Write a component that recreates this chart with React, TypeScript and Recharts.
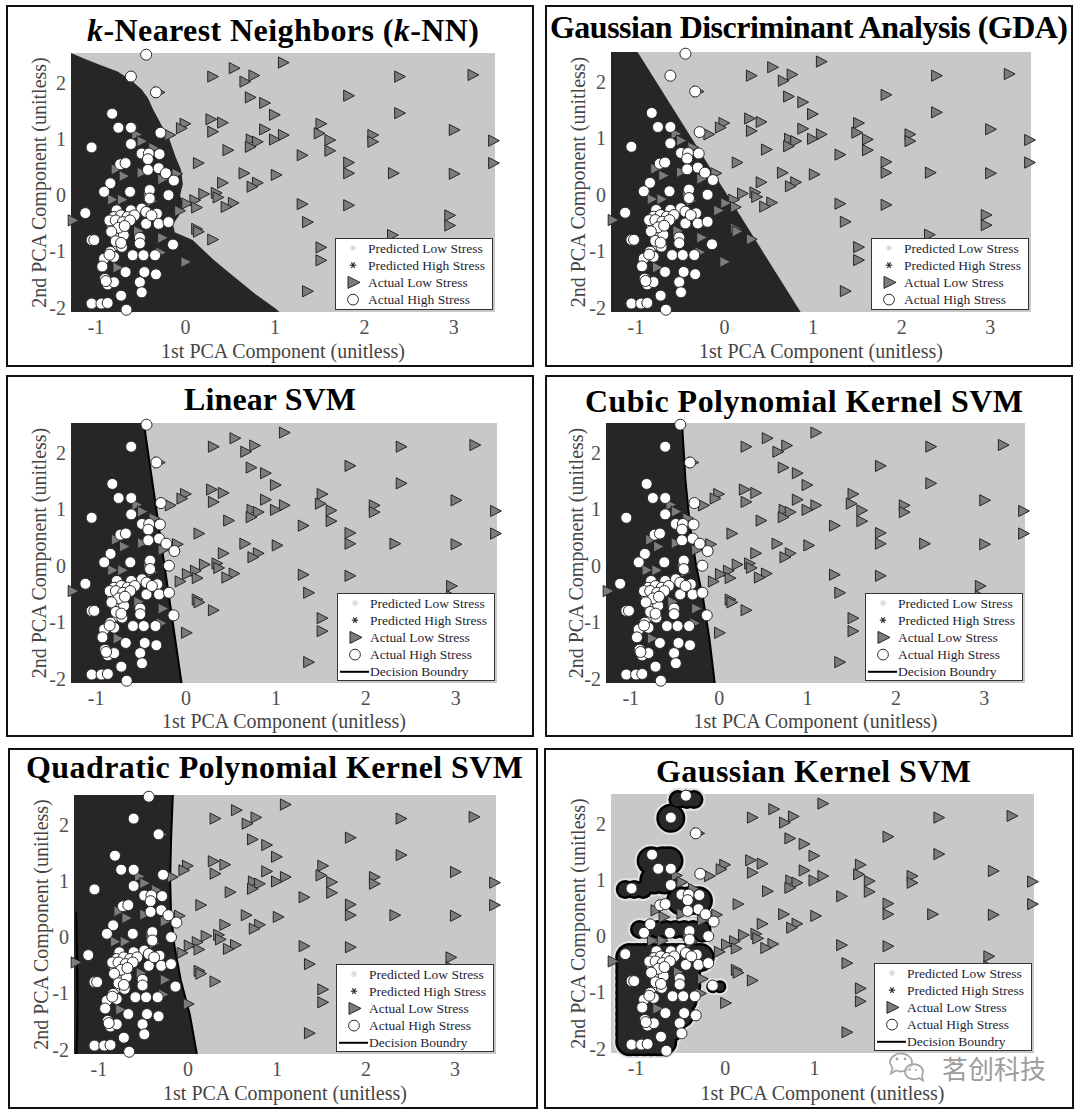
import React from 'react';
import { ComposedChart, XAxis, YAxis, CartesianGrid, Area, Line, Scatter, Legend } from 'recharts';

const SERIF = '"Liberation Serif", "Times New Roman", serif';
const LIGHT = '#c8c8c8';
const DARK = '#262626';

type P = [number, number];

const X_DOMAIN: [number, number] = [-1.28, 3.46];
const Y_DOMAIN: [number, number] = [-2.08, 2.53];
const X_TICKS = [-1, 0, 1, 2, 3];
// the last panel's 2 and 3 sit under the watermark in the source picture
const X_TICKS_WATERMARKED = [-1, 0, 1];
const Y_TICKS = [-2, -1, 0, 1, 2];
const X_LABEL = '1st PCA Component (unitless)';
const Y_LABEL = '2nd PCA Component (unitless)';
const LEGEND_LABELS = ['Predicted Low Stress', 'Predicted High Stress', 'Actual Low Stress', 'Actual High Stress'];
const BOUNDARY_LABEL = 'Decision Boundry';

// actual low stress samples (triangles)
const LOW_STRESS: P[] = [
  [1.09, 2.36], [0.54, 2.26], [0.3, 2.11], [0.76, 2.13], [0.66, 2.02], [2.39, 2.11], [3.21, 2.14],
  [1.82, 1.77], [0.72, 1.74], [0.88, 1.64], [0.99, 1.43], [2.39, 1.46], [0.28, 1.35], [0.41, 1.29],
  [-0.01, 1.27], [1.51, 1.27], [0.3, 1.13], [-0.18, 1.07], [-0.05, 1.19], [0.88, 1.17], [1.49, 1.1],
  [3.0, 1.16], [1.09, 1.07], [0.99, 0.99], [2.09, 1.07], [2.09, 0.95], [1.61, 0.98], [0.73, 0.99],
  [0.8, 0.95], [0.72, 0.86], [3.44, 0.97], [0.47, 0.8], [1.61, 0.79], [1.3, 0.71], [0.14, 0.57],
  [1.82, 0.58], [3.44, 0.57], [1.82, 0.39], [2.32, 0.39], [3.0, 0.38], [0.65, 0.39], [1.01, 0.36],
  [0.8, 0.22], [0.74, 0.15], [0.41, 0.22], [0.34, 0.04], [0.36, -0.04], [0.2, 0.02], [0.1, -0.09],
  [0.01, -0.15], [0.12, -0.22], [-0.07, -0.28], [0.53, -0.14], [0.45, -0.21], [1.3, -0.16], [1.82, -0.18],
  [1.36, -0.48], [2.95, -0.36], [2.95, -0.54], [2.31, -0.71], [0.12, -0.6], [0.14, -0.65], [0.3, -0.79],
  [1.51, -0.93], [1.51, -1.16], [0.0, -1.19], [1.36, -1.71], [-1.26, -0.45],
  [-0.3, 1.83], [-0.55, 1.08], [-0.49, 0.96], [-0.36, 0.84], [-0.78, 0.46], [-0.69, 0.34], [-0.49, 0.4],
  [-0.26, 0.28], [-0.82, -0.08], [-0.71, -0.08], [-0.38, -0.11], [-0.53, -0.64], [-0.26, -0.76],
  [-0.76, -1.29], [-0.28, -1.02], [-0.1, 0.38], [-0.42, 0.02],
];

// actual high stress samples (circles)
const HIGH_STRESS: P[] = [
  [-0.44, 2.5], [-0.61, 2.11], [-0.33, 1.83], [-0.82, 1.45], [-0.75, 1.2], [-0.61, 1.2], [-0.28, 1.11],
  [-1.05, 0.85], [-0.61, 0.91], [-0.49, 0.74], [-0.41, 0.74], [-0.29, 0.73], [-0.42, 0.64], [-0.73, 0.55],
  [-0.67, 0.57], [-0.3, 0.48], [-0.42, 0.45], [-0.22, 0.39], [-0.13, 0.26], [-0.84, 0.21], [-0.91, 0.06],
  [-0.62, 0.06], [-0.4, 0.09], [-0.19, 0.0], [-0.4, -0.06], [-1.12, -0.32], [-0.77, -0.27], [-0.61, -0.27],
  [-0.49, -0.24], [-0.44, -0.3], [-0.32, -0.33], [-0.8, -0.39], [-0.72, -0.36], [-0.65, -0.39], [-0.57, -0.36],
  [-0.44, -0.51], [-0.3, -0.51], [-0.19, -0.48], [-0.82, -0.53], [-0.72, -0.63], [-0.8, -0.69], [-0.75, -0.77],
  [-0.69, -0.71], [-0.51, -0.76], [-0.51, -0.86], [-1.05, -0.8], [-1.02, -0.8], [-0.76, -0.89], [-0.71, -0.92],
  [-0.84, -1.01], [-0.59, -1.07], [-0.47, -1.07], [-0.34, -1.07], [-0.14, -0.88], [-0.91, -1.13], [-0.8, -1.1],
  [-0.93, -1.27], [-0.67, -1.37], [-0.46, -1.37], [-0.33, -1.41], [-0.9, -1.49], [-0.87, -1.59], [-0.8, -1.55],
  [-0.51, -1.55], [-0.49, -1.73], [-0.72, -1.79], [-1.05, -1.93], [-0.94, -1.93], [-0.87, -1.92], [-0.66, -2.04],
  [-0.85, -0.45], [-0.78, -0.45], [-0.7, -0.48], [-0.62, -0.45], [-0.75, -0.58], [-0.68, -0.55], [-0.83, -0.65],
  [-0.78, -0.82], [-0.72, -0.85], [-0.85, -1.06], [-0.38, -0.36], [-0.89, -1.53],
];

// predicted high-stress regions / decision boundaries
const KNN_REGION: P[] = [
  [-1.28, 2.53], [-1.15, 2.44], [-0.96, 2.32], [-0.76, 2.2], [-0.61, 2.05], [-0.49, 1.88], [-0.42, 1.73],
  [-0.36, 1.52], [-0.26, 1.22], [-0.19, 1.04], [-0.15, 0.86], [-0.11, 0.68], [-0.05, 0.45], [-0.03, 0.2],
  [-0.06, 0.0], [-0.02, -0.2], [-0.08, -0.38], [-0.14, -0.52], [-0.12, -0.66], [0.08, -0.8], [0.32, -1.16],
  [0.55, -1.46], [0.78, -1.76], [1.01, -2.02], [1.05, -2.08],
];
const GDA_REGION: P[] = [[-1.28, 2.53], [-0.98, 2.53], [0.86, -2.08]];
const LINEAR_REGION: P[] = [[-1.28, 2.53], [-0.47, 2.53], [-0.05, -2.08]];
const LINEAR_BOUNDARY: P[] = [[-0.47, 2.53], [-0.05, -2.08]];
const CUBIC_REGION: P[] = [
  [-1.28, 2.53], [-0.42, 2.53], [-0.38, 1.5], [-0.33, 0.7], [-0.26, 0.0], [-0.18, -0.6], [-0.11, -1.3], [-0.05, -2.08],
];
const CUBIC_BOUNDARY: P[] = [
  [-0.42, 2.53], [-0.38, 1.5], [-0.33, 0.7], [-0.26, 0.0], [-0.18, -0.6], [-0.11, -1.3], [-0.05, -2.08],
];
const QUAD_REGION: P[] = [
  [-1.28, 2.53], [-0.17, 2.53], [-0.19, 1.73], [-0.2, 1.01], [-0.19, 0.42], [-0.15, -0.18], [-0.08, -0.77],
  [0.02, -1.37], [0.1, -2.08],
];
const QUAD_BOUNDARY_RIGHT: P[] = [
  [-0.17, 2.53], [-0.19, 1.73], [-0.2, 1.01], [-0.19, 0.42], [-0.15, -0.18], [-0.08, -0.77], [0.02, -1.37], [0.1, -2.08],
];
const QUAD_BOUNDARY_LEFT: P[] = [[-1.255, 0.45], [-1.245, -0.4], [-1.24, -1.2], [-1.245, -1.8], [-1.255, -2.08]];

// gaussian kernel islands, traced as unions of discs
const GAUSS_LARGE: P[] = [
  [-0.61, 2.1],
  [-0.83, 1.34], [-0.7, 1.34], [-0.63, 1.34], [-0.8, 1.0], [-0.68, 1.0], [-0.5, 0.63], [-0.4, 0.63], [-0.3, 0.63],
  [-1.07, -0.38], [-0.91, -0.38], [-0.75, -0.38], [-0.59, -0.38], [-0.43, -0.38], [-0.28, -0.38],
  [-1.07, -0.5], [-1.07, -0.75], [-1.07, -1.0], [-1.07, -1.25], [-1.07, -1.5], [-1.07, -1.75],
  [-1.07, -0.63], [-0.91, -0.63], [-0.75, -0.63], [-0.59, -0.63], [-0.43, -0.63],
  [-1.07, -0.88], [-0.91, -0.88], [-0.75, -0.88], [-0.59, -0.88], [-0.43, -0.88],
  [-1.07, -1.13], [-0.91, -1.13], [-0.75, -1.13], [-0.59, -1.13], [-0.47, -1.13],
  [-1.07, -1.38], [-0.91, -1.38], [-0.75, -1.38], [-0.59, -1.38], [-0.5, -1.38],
  [-1.07, -1.63], [-0.91, -1.63], [-0.75, -1.63], [-0.61, -1.63],
  [-1.07, -1.88], [-0.99, -1.88], [-0.91, -1.88], [-0.83, -1.88], [-0.75, -1.88], [-0.7, -1.88],
  [-0.35, -0.38], [-0.51, -0.38], [-0.67, -0.38], [-0.83, -0.38], [-0.99, -0.38],
];
const GAUSS_SMALL: P[] = [
  [-0.53, 2.43], [-0.43, 2.43], [-0.35, 2.43],
  [-1.12, 0.83], [-1.02, 0.83], [-0.92, 0.83],
  [-0.96, 0.12], [-0.86, 0.12], [-0.76, 0.12], [-0.66, 0.12], [-0.56, 0.12], [-0.46, 0.12], [-0.36, 0.12],
  [-0.26, 0.12], [-0.26, 0.05],
];
const GAUSS_TINY: P[] = [[-0.14, -0.9], [-0.06, -0.9]];

const pts = (list: P[]) => list.map(([x, y]) => ({ x, y }));

const lowData = pts(LOW_STRESS);
const highData = pts(HIGH_STRESS);

const triangleShape = (props: any) => {
  const { cx, cy } = props;
  if (!Number.isFinite(cx) || !Number.isFinite(cy)) return <g />;
  return (
    <polygon
      points={`${cx - 4.6},${cy - 5.6} ${cx - 4.6},${cy + 5.6} ${cx + 6.2},${cy}`}
      fill="#7c7c7c"
      stroke="#262626"
      strokeWidth={1}
      strokeLinejoin="round"
    />
  );
};

const circleShape = (props: any) => {
  const { cx, cy } = props;
  if (!Number.isFinite(cx) || !Number.isFinite(cy)) return <g />;
  return <circle cx={cx} cy={cy} r={5.5} fill="#ffffff" stroke="#2a2a2a" strokeWidth={1} />;
};

const disk = (r: number, fill: string) => (props: any) => {
  const { cx, cy } = props;
  if (!Number.isFinite(cx) || !Number.isFinite(cy)) return <g />;
  return <circle cx={cx} cy={cy} r={r} fill={fill} />;
};

const TICK_STYLE = { fill: '#505050', fontSize: 20, fontFamily: SERIF };
const LABEL_STYLE = { fill: '#454545', fontSize: 20, fontFamily: SERIF };

function Asterisk({ x, y, color }: { x: number; y: number; color: string }) {
  const r = 3.2;
  return (
    <g stroke={color} strokeWidth={1.2}>
      <line x1={x - r} y1={y} x2={x + r} y2={y} />
      <line x1={x - r * 0.5} y1={y - r * 0.87} x2={x + r * 0.5} y2={y + r * 0.87} />
      <line x1={x - r * 0.5} y1={y + r * 0.87} x2={x + r * 0.5} y2={y - r * 0.87} />
    </g>
  );
}

function LegendBox({ withBoundary }: { withBoundary: boolean }) {
  const rows = withBoundary ? [...LEGEND_LABELS, BOUNDARY_LABEL] : LEGEND_LABELS;
  const h = withBoundary ? 88 : 72;
  const mx = 18;
  return (
    <svg width={158} height={h} style={{ display: 'block' }}>
      <rect x={0.5} y={0.5} width={157} height={h - 1} fill="#ffffff" stroke="#333333" />
      {rows.map((label, i) => {
        const cy = 10 + i * 17.2;
        let marker: React.ReactNode = null;
        if (i === 0) marker = <Asterisk x={mx} y={cy} color="#d4d4d4" />;
        if (i === 1) marker = <Asterisk x={mx} y={cy} color="#303030" />;
        if (i === 2)
          marker = (
            <polygon
              points={`${mx - 5},${cy - 6} ${mx - 5},${cy + 6} ${mx + 7},${cy}`}
              fill="#7c7c7c"
              stroke="#262626"
              strokeWidth={1}
            />
          );
        if (i === 3) marker = <circle cx={mx} cy={cy} r={5.4} fill="#fff" stroke="#2a2a2a" strokeWidth={1} />;
        if (i === 4) marker = <line x1={3} y1={cy} x2={32} y2={cy} stroke="#000" strokeWidth={2} />;
        return (
          <g key={label}>
            {marker}
            <text x={33} y={cy + 4.6} fontSize={13.5} fontFamily={SERIF} fill="#1e1e32">
              {label}
            </text>
          </g>
        );
      })}
    </svg>
  );
}

interface PanelCfg {
  left: number;
  top: number;
  width: number;
  height: number;
  plot: { l: number; t: number; w: number; h: number };
  titleX: number;
  titleW: number;
  titleY: number;
  boundary: boolean;
  xTicks: number[];
}

function Panel({ cfg, title, children }: { cfg: PanelCfg; title: React.ReactNode; children: React.ReactNode }) {
  const { plot } = cfg;
  const legendH = cfg.boundary ? 88 : 72;
  const legendLeft = plot.l + plot.w - 2 - 158;
  const legendTop = plot.t + plot.h - 2 - legendH;
  return (
    <div style={{ position: 'absolute', left: cfg.left, top: cfg.top, width: cfg.width, height: cfg.height }}>
      <ComposedChart
        width={cfg.width}
        height={cfg.height}
        margin={{ top: plot.t, right: cfg.width - plot.l - plot.w, bottom: 0, left: 0 }}
      >
        <CartesianGrid horizontal={false} vertical={false} fill={LIGHT} fillOpacity={1} stroke="none" />
        <XAxis
          type="number"
          dataKey="x"
          domain={X_DOMAIN}
          ticks={cfg.xTicks}
          interval={0}
          height={cfg.height - plot.t - plot.h}
          axisLine={false}
          tickLine={false}
          tickSize={5}
          tickMargin={3}
          tick={TICK_STYLE}
          label={{ value: X_LABEL, position: 'insideBottom', offset: 9, ...LABEL_STYLE }}
        />
        <YAxis
          type="number"
          dataKey="y"
          domain={Y_DOMAIN}
          ticks={Y_TICKS}
          interval={0}
          width={plot.l}
          axisLine={false}
          tickLine={false}
          tickSize={2}
          tickMargin={3}
          tick={TICK_STYLE}
          label={{ value: Y_LABEL, position: 'center', angle: -90, ...LABEL_STYLE }}
        />
        {children}
        <Scatter name="Actual Low Stress" data={lowData} shape={triangleShape} isAnimationActive={false} />
        <Scatter name="Actual High Stress" data={highData} shape={circleShape} isAnimationActive={false} />
        <Legend
          layout="vertical"
          align="center"
          verticalAlign="middle"
          wrapperStyle={{ left: legendLeft, top: legendTop, width: 158, height: legendH, lineHeight: 0 }}
          content={() => <LegendBox withBoundary={cfg.boundary} />}
        />
      </ComposedChart>
      <svg
        width={cfg.width}
        height={50}
        style={{ position: 'absolute', left: 0, top: 0, pointerEvents: 'none' }}
      >
        <text
          x={cfg.titleX}
          y={cfg.titleY}
          textLength={cfg.titleW}
          lengthAdjust="spacing"
          fontSize={32}
          fontWeight="bold"
          fontFamily={SERIF}
          fill="#000"
        >
          {title}
        </text>
      </svg>
      <div
        style={{
          position: 'absolute',
          left: 0,
          top: 0,
          width: cfg.width,
          height: cfg.height,
          border: '2px solid #111',
          boxSizing: 'border-box',
          pointerEvents: 'none',
        }}
      />
    </div>
  );
}

const regionArea = (list: P[], key: string) => (
  <Area
    key={key}
    data={pts(list)}
    dataKey="y"
    type="linear"
    baseValue="dataMin"
    fill={DARK}
    fillOpacity={1}
    stroke="none"
    dot={false}
    activeDot={false}
    isAnimationActive={false}
  />
);

const boundaryLine = (list: P[], key: string) => (
  <Line
    key={key}
    data={pts(list)}
    dataKey="y"
    type="linear"
    stroke="#000"
    strokeWidth={2}
    dot={false}
    activeDot={false}
    isAnimationActive={false}
  />
);

const haloL = disk(16.5, '#e2e2e2');
const haloS = disk(11.5, '#e2e2e2');
const haloT = disk(8.5, '#e2e2e2');
const ringL = disk(14.5, '#000');
const ringS = disk(9.5, '#000');
const ringT = disk(6.5, '#000');
const fillL = disk(12, '#282828');
const fillS = disk(7, '#282828');
const fillT = disk(4, '#282828');

const gaussLayers = () => {
  const L = pts(GAUSS_LARGE);
  const S = pts(GAUSS_SMALL);
  const T = pts(GAUSS_TINY);
  const layers: [any[], any][] = [
    [L, haloL], [S, haloS], [T, haloT],
    [L, ringL], [S, ringS], [T, ringT],
    [L, fillL], [S, fillS], [T, fillT],
  ];
  return layers.map(([data, shape], i) => (
    <Scatter key={`g${i}`} data={data} shape={shape} isAnimationActive={false} legendType="none" />
  ));
};

const P1: PanelCfg = { left: 6, top: 5, width: 528, height: 362, plot: { l: 65, t: 48, w: 424, h: 259 }, titleX: 81, titleW: 392, titleY: 36, boundary: false, xTicks: X_TICKS };
const P2: PanelCfg = { left: 545, top: 5, width: 528, height: 362, plot: { l: 66, t: 47, w: 420, h: 260 }, titleX: 5, titleW: 518, titleY: 33, boundary: false, xTicks: X_TICKS };
const P3: PanelCfg = { left: 6, top: 375, width: 528, height: 362, plot: { l: 65, t: 48, w: 426, h: 260 }, titleX: 178, titleW: 172, titleY: 35, boundary: true, xTicks: X_TICKS };
const P4: PanelCfg = { left: 545, top: 375, width: 528, height: 362, plot: { l: 61, t: 48, w: 419, h: 260 }, titleX: 40, titleW: 438, titleY: 37, boundary: true, xTicks: X_TICKS };
const P5: PanelCfg = { left: 8, top: 748, width: 530, height: 361, plot: { l: 66, t: 47, w: 422, h: 259 }, titleX: 18, titleW: 497, titleY: 30, boundary: true, xTicks: X_TICKS };
const P6: PanelCfg = { left: 544, top: 748, width: 530, height: 361, plot: { l: 67, t: 46, w: 423, h: 259 }, titleX: 112, titleW: 315, titleY: 34, boundary: true, xTicks: X_TICKS_WATERMARKED };

export default function App() {
  return (
    <div
      style={{
        position: 'absolute',
        left: 0,
        top: 0,
        width: 1080,
        height: 1116,
        background: '#ffffff',
        overflow: 'hidden',
        fontFamily: SERIF,
      }}
    >
      <Panel
        cfg={P1}
        title={
          <>
            <tspan fontStyle="italic">k</tspan>-Nearest Neighbors (<tspan fontStyle="italic">k</tspan>-NN)
          </>
        }
      >
        {regionArea(KNN_REGION, 'knn')}
      </Panel>
      <Panel cfg={P2} title="Gaussian Discriminant Analysis (GDA)">
        {regionArea(GDA_REGION, 'gda')}
      </Panel>
      <Panel cfg={P3} title="Linear SVM">
        {[regionArea(LINEAR_REGION, 'lin'), boundaryLine(LINEAR_BOUNDARY, 'linb')]}
      </Panel>
      <Panel cfg={P4} title="Cubic Polynomial Kernel SVM">
        {[regionArea(CUBIC_REGION, 'cub'), boundaryLine(CUBIC_BOUNDARY, 'cubb')]}
      </Panel>
      <Panel cfg={P5} title="Quadratic Polynomial Kernel SVM">
        {[
          regionArea(QUAD_REGION, 'quad'),
          boundaryLine(QUAD_BOUNDARY_RIGHT, 'quadr'),
          boundaryLine(QUAD_BOUNDARY_LEFT, 'quadl'),
        ]}
      </Panel>
      <Panel cfg={P6} title="Gaussian Kernel SVM">
        {gaussLayers()}
      </Panel>
      <svg
        width={1080}
        height={1116}
        style={{ position: 'absolute', left: 0, top: 0, pointerEvents: 'none' }}
      >
        <g stroke="#a6a6a6" strokeWidth={1.8} fill="rgba(255,255,255,0.55)">
          <path d="M 890 1063 a 11 9 0 1 1 6 7.5 l -5 3 l 1.5 -5 z" />
          <path d="M 923 1072 a 9 7.5 0 1 0 -4 6 l 4 2.5 l -1 -4 z" />
        </g>
        <g fill="#a6a6a6">
          <circle cx={897} cy={1059} r={1.4} />
          <circle cx={905} cy={1059} r={1.4} />
          <circle cx={910} cy={1070} r={1.1} />
          <circle cx={916} cy={1070} r={1.1} />
        </g>
        <text
          x={942}
          y={1079}
          fontSize={26}
          fontFamily='"Noto Sans CJK SC", sans-serif'
          fill="#9c9c9c"
          stroke="#ffffff"
          strokeWidth={2}
          paintOrder="stroke"
        >
          茗创科技
        </text>
      </svg>
    </div>
  );
}
